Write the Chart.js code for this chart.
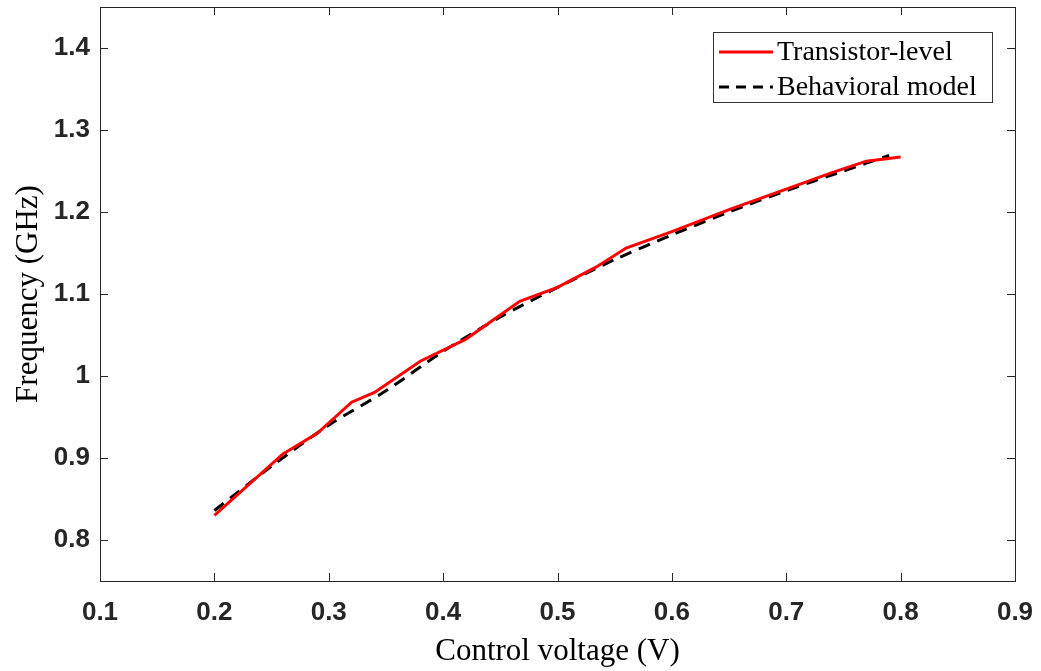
<!DOCTYPE html>
<html>
<head>
<meta charset="utf-8">
<script src="https://cdn.jsdelivr.net/npm/chart.js@4/dist/chart.umd.min.js"></script>
<style>
  html, body { margin: 0; padding: 0; background: #fff; }
  #wrap { width: 1041px; height: 671px; }
</style>
</head>
<body>
<div id="wrap"><canvas id="vcoChart" width="1041" height="671"></canvas></div>
<script>
// control voltage (V) -> frequency (GHz)
const transistorV = [0.20, 0.26, 0.29, 0.32, 0.34, 0.38, 0.42, 0.467, 0.50, 0.534, 0.56, 0.60, 0.65, 0.70, 0.74, 0.77, 0.80];
const transistorF = [0.830, 0.905, 0.930, 0.968, 0.980, 1.018, 1.045, 1.091, 1.108, 1.133, 1.156, 1.176, 1.203, 1.228, 1.248, 1.262, 1.267];

const behavioralV = [0.20, 0.25, 0.30, 0.35, 0.40, 0.45, 0.50, 0.55, 0.60, 0.65, 0.70, 0.75, 0.79];
const behavioralF = [0.836, 0.890, 0.940, 0.982, 1.030, 1.072, 1.108, 1.142, 1.172, 1.200, 1.226, 1.250, 1.269];

const xTicks = [0.1, 0.2, 0.3, 0.4, 0.5, 0.6, 0.7, 0.8, 0.9];
const yTicks = [0.8, 0.9, 1.0, 1.1, 1.2, 1.3, 1.4];

const axisColor = '#262626';

// MATLAB-style box with inward ticks on all four sides
const boxPlugin = {
    id: 'box',
    afterDraw(chart) {
        const { ctx, chartArea: a, scales } = chart;
        const len = 8;
        ctx.save();
        ctx.strokeStyle = axisColor;
        ctx.lineWidth = 1;
        ctx.strokeRect(a.left + 0.5, a.top + 0.5, a.right - a.left, a.bottom - a.top);
        ctx.beginPath();
        xTicks.forEach(v => {
            const px = Math.round(scales.x.getPixelForValue(v)) + 0.5;
            ctx.moveTo(px, a.bottom); ctx.lineTo(px, a.bottom - len);
            ctx.moveTo(px, a.top); ctx.lineTo(px, a.top + len);
        });
        yTicks.forEach(v => {
            const py = Math.round(scales.y.getPixelForValue(v)) + 0.5;
            ctx.moveTo(a.left, py); ctx.lineTo(a.left + len, py);
            ctx.moveTo(a.right, py); ctx.lineTo(a.right - len, py);
        });
        ctx.stroke();

        // legend inside the plot, upper right
        const lx = 713, ly = 32, lw = 279, lh = 70;
        ctx.fillStyle = '#fff';
        ctx.fillRect(lx, ly, lw, lh);
        ctx.strokeStyle = '#333';
        ctx.strokeRect(lx + 0.5, ly + 0.5, lw, lh);
        ctx.font = '28px "Liberation Serif"';
        ctx.textBaseline = 'middle';
        chart.data.datasets.forEach((ds, i) => {
            const y = ly + 20 + i * 35;
            ctx.beginPath();
            ctx.strokeStyle = ds.borderColor;
            ctx.lineWidth = 3;
            ctx.setLineDash(ds.borderDash ? [10, 7] : []);
            ctx.moveTo(lx + 6, y);
            ctx.lineTo(lx + 60, y);
            ctx.stroke();
            ctx.setLineDash([]);
            ctx.fillStyle = '#000';
            ctx.fillText(ds.label, lx + 64, y + 1);
        });
        ctx.restore();
    }
};

const chart = new Chart(
    document.getElementById('vcoChart'),
    {
        type: 'line',
        data: {
            datasets: [
                {
                    label: 'Transistor-level',
                    data: transistorV.map((v, i) => ({ x: v, y: transistorF[i] })),
                    borderColor: '#ff0000',
                    borderWidth: 3,
                    pointRadius: 0,
                    tension: 0
                },
                {
                    label: 'Behavioral model',
                    data: behavioralV.map((v, i) => ({ x: v, y: behavioralF[i] })),
                    borderColor: '#000000',
                    borderWidth: 3,
                    borderDash: [12, 8],
                    pointRadius: 0,
                    tension: 0.3
                }
            ]
        },
        options: {
            responsive: false,
            animation: false,
            layout: { padding: { top: 7, right: 26, left: 0, bottom: 0 } },
            plugins: {
                legend: { display: false },
                tooltip: { enabled: false }
            },
            scales: {
                x: {
                    type: 'linear',
                    min: 0.1,
                    max: 0.9,
                    afterBuildTicks: s => { s.ticks = xTicks.map(v => ({ value: v })); },
                    afterFit: s => { s.height = 90; s.paddingLeft = 0; s.paddingRight = 0; },
                    grid: { drawOnChartArea: false, drawTicks: false },
                    border: { color: axisColor },
                    ticks: {
                        color: axisColor,
                        padding: 16,
                        maxRotation: 0,
                        font: { family: '"Liberation Sans"', size: 26, weight: 'bold' },
                        callback: v => String(+v.toFixed(2))
                    },
                    title: {
                        display: true,
                        text: 'Control voltage (V)',
                        color: '#000',
                        padding: { top: 0, bottom: 1 },
                        font: { family: '"Liberation Serif"', size: 31 }
                    }
                },
                y: {
                    min: 0.75,
                    max: 1.45,
                    afterBuildTicks: s => { s.ticks = yTicks.map(v => ({ value: v })); },
                    afterFit: s => { s.width = 100; s.paddingTop = 0; s.paddingBottom = 0; },
                    grid: { drawOnChartArea: false, drawTicks: false },
                    border: { color: axisColor },
                    ticks: {
                        color: axisColor,
                        padding: 10,
                        font: { family: '"Liberation Sans"', size: 26, weight: 'bold' },
                        callback: v => String(+v.toFixed(2))
                    },
                    title: {
                        display: true,
                        text: 'Frequency (GHz)',
                        color: '#000',
                        padding: { top: 10, bottom: 0 },
                        font: { family: '"Liberation Serif"', size: 31 }
                    }
                }
            }
        },
        plugins: [boxPlugin]
    }
);
</script>
</body>
</html>
